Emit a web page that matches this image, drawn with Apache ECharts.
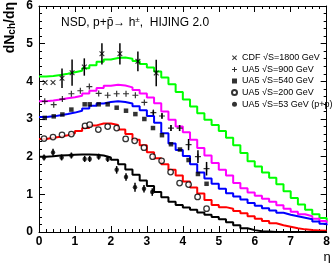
<!DOCTYPE html>
<html>
<head>
<meta charset="utf-8">
<script src="https://cdn.jsdelivr.net/npm/echarts@6/dist/echarts.min.js"></script>
<style>
  html, body { margin: 0; padding: 0; background: #fff; }
  #main { width: 333px; height: 263px; }
</style>
</head>
<body>
<div id="main"></div>
<script>
// bin edges of the HIJING histograms (eta)
var etaBins = [0, 0.2, 0.4, 0.6, 0.8, 1, 1.2, 1.4, 1.6, 1.8, 2, 2.2, 2.4, 2.6, 2.8, 3, 3.2, 3.4, 3.6, 3.8, 4,
  4.2, 4.4, 4.6, 4.8, 5, 5.2, 5.4, 5.6, 5.8, 6, 6.2, 6.4, 6.6, 6.8, 7, 7.2, 7.4, 7.6, 7.8, 8];

// HIJING 2.0 curves
var hijing1800 = [4.13, 4.14, 4.17, 4.2, 4.24, 4.28, 4.35, 4.43, 4.52, 4.58, 4.62, 4.63, 4.6, 4.54, 4.46, 4.37, 4.26, 4.1, 3.92, 3.72, 3.52,
  3.33, 3.15, 2.98, 2.84, 2.68, 2.5, 2.3, 2.1, 1.88, 1.74, 1.58, 1.44, 1.27, 1.08, 0.9, 0.73, 0.59, 0.47, 0.37, 0.28];
var hijing900 = [3.47, 3.49, 3.52, 3.55, 3.58, 3.62, 3.68, 3.75, 3.82, 3.88, 3.91, 3.89, 3.84, 3.77, 3.68, 3.57, 3.42, 3.2, 2.98, 2.8, 2.65,
  2.45, 2.23, 2.03, 1.83, 1.65, 1.5, 1.3, 1.16, 1.05, 0.96, 0.88, 0.8, 0.71, 0.62, 0.54, 0.47, 0.42, 0.35, 0.29, 0.24];
var hijing540 = [3.05, 3.07, 3.1, 3.13, 3.17, 3.22, 3.28, 3.35, 3.41, 3.45, 3.47, 3.45, 3.41, 3.34, 3.23, 3.08, 2.9, 2.62, 2.35, 2.18, 2.02,
  1.8, 1.58, 1.42, 1.28, 1.15, 1.03, 0.94, 0.86, 0.77, 0.7, 0.63, 0.57, 0.51, 0.46, 0.42, 0.38, 0.34, 0.28, 0.22, 0.18];
var hijing200 = [2.47, 2.5, 2.53, 2.57, 2.62, 2.68, 2.76, 2.83, 2.88, 2.88, 2.84, 2.72, 2.6, 2.45, 2.3, 2.12, 1.96, 1.8, 1.65, 1.5, 1.34,
  1.18, 1.02, 0.85, 0.72, 0.66, 0.62, 0.56, 0.5, 0.42, 0.35, 0.29, 0.23, 0.18, 0.14, 0.1, 0.07, 0.05, 0.04, 0.03, 0.03];
var hijing53 = [2.0, 2.01, 2.03, 2.04, 2.05, 2.06, 2.06, 2.05, 2.03, 1.98, 1.92, 1.8, 1.66, 1.52, 1.37, 1.22, 1.06, 0.92, 0.8, 0.72, 0.65,
  0.59, 0.52, 0.46, 0.4, 0.34, 0.26, 0.18, 0.1, 0.05, 0.02, 0.01, 0, 0, 0, 0, 0, 0, 0, 0, 0];

// measured data
var cdfEta = [0.17, 0.39, 0.64, 0.92, 1.26, 1.75, 2.25, 2.75, 3.26];
var cdfVal = [3.97, 3.97, 4.08, 4.23, 4.38, 4.73, 4.73, 4.53, 4.22];
var cdfErr = [0, 0, 0.26, 0.35, 0.23, 0.28, 0.28, 0.26, 0.35];

var ua900Eta = [0.16, 0.41, 0.65, 0.9, 1.15, 1.4, 1.66, 1.91, 2.16, 2.42, 2.68, 2.93, 3.18, 3.42, 3.67, 3.91, 4.16, 4.42, 4.66];
var ua900Val = [3.47, 3.38, 3.53, 3.67, 3.75, 3.86, 3.68, 3.63, 3.67, 3.67, 3.63, 3.44, 3.17, 3.08, 2.76, 2.76, 2.32, 2.0, 1.68];
var ua900Err = [0, 0, 0, 0, 0, 0, 0, 0, 0, 0, 0, 0, 0.06, 0.07, 0.08, 0.08, 0.15, 0.17, 0.18];

var ua540Eta = [0.16, 0.41, 0.65, 0.9, 1.27, 1.41, 1.66, 1.91, 2.16, 2.42, 2.68, 2.93, 3.17, 3.42, 3.67, 3.92, 4.16, 4.42, 4.66];
var ua540Val = [3.03, 3.07, 3.12, 3.25, 3.39, 3.39, 3.39, 3.39, 3.3, 3.22, 3.13, 3.0, 2.76, 2.57, 2.33, 2.19, 1.91, 1.54, 1.28];

var ua200Eta = [0.14, 0.39, 0.64, 0.9, 1.28, 1.41, 1.65, 1.91, 2.16, 2.41, 2.66, 2.92, 3.16, 3.41, 3.66, 3.91, 4.16, 4.41, 4.66];
var ua200Val = [2.48, 2.52, 2.58, 2.6, 2.82, 2.85, 2.72, 2.8, 2.76, 2.47, 2.42, 2.24, 2.0, 1.89, 1.59, 1.3, 1.26, 0.93, 0.62];

var ua53Eta = [0.14, 0.39, 0.63, 0.9, 1.27, 1.41, 1.66, 1.91, 2.16, 2.42, 2.67, 2.92, 3.15];
var ua53Val = [1.98, 2.11, 1.98, 2.03, 1.94, 1.94, 2.0, 1.94, 1.65, 1.46, 1.19, 1.15, 1.06];
var ua53Err = [0.08, 0.1, 0.08, 0.08, 0.08, 0.08, 0.08, 0.08, 0.1, 0.1, 0.12, 0.1, 0.1];

var xTicks = [0, 1, 2, 3, 4, 5, 6, 7, 8];
var yTicks = [0, 1, 2, 3, 4, 5, 6];

var legendNames = ["CDF \u221AS=1800 GeV", "UA5 \u221AS=900 GeV", "UA5 \u221AS=540 GeV", "UA5 \u221AS=200 GeV", "UA5 \u221AS=53 GeV (p+p)"];

var FONT = "Liberation Sans";
var plusPath = "path://M4,0H6V4H10V6H6V10H4V6H0V4H4Z";
var crossPath = "path://M1.4,0L5,3.6L8.6,0L10,1.4L6.4,5L10,8.6L8.6,10L5,6.4L1.4,10L0,8.6L3.6,5L0,1.4Z";

function pairs(xs, ys) {
  return xs.map(function (x, i) { return [x, ys[i]]; });
}

function errs(xs, ys, es) {
  var out = [];
  xs.forEach(function (x, i) {
    if (es[i] > 0) out.push([x, ys[i] - es[i], ys[i] + es[i]]);
  });
  return out;
}

function histo(name, vals, color) {
  return {
    name: name,
    type: "line",
    step: "end",
    data: pairs(etaBins, vals),
    showSymbol: false,
    lineStyle: { color: color, width: 2 },
    z: 2,
  };
}

var chartDom = document.getElementById("main");
var myChart = echarts.init(chartDom);
var option;

var axisCommon = {
  type: "value",
  axisLine: { show: true, onZero: false, lineStyle: { color: "#000", width: 1 } },
  axisTick: { show: true, inside: true, length: 6, lineStyle: { color: "#000", width: 1 } },
  minorTick: { show: true, splitNumber: 5, length: 3, lineStyle: { color: "#000", width: 1 } },
  splitLine: { show: false },
};

option = {
  animation: false,
  backgroundColor: "#fff",
  grid: { left: 39, right: 3, top: 4, bottom: 31 },
  xAxis: [
    Object.assign({}, axisCommon, {
      min: xTicks[0], max: xTicks[xTicks.length - 1], interval: 1, position: "bottom",
      axisLabel: { margin: 4, fontSize: 12, fontWeight: "bold", fontFamily: FONT, color: "#000" },
    }),
    Object.assign({}, axisCommon, {
      min: xTicks[0], max: xTicks[xTicks.length - 1], interval: 1, position: "top",
      axisLabel: { show: false },
    }),
  ],
  yAxis: [
    Object.assign({}, axisCommon, {
      min: yTicks[0], max: yTicks[yTicks.length - 1], interval: 1, position: "left",
      axisLabel: { margin: 6, fontSize: 12, fontWeight: "bold", fontFamily: FONT, color: "#000" },
    }),
    Object.assign({}, axisCommon, {
      min: yTicks[0], max: yTicks[yTicks.length - 1], interval: 1, position: "right",
      axisLabel: { show: false },
    }),
  ],
  legend: {
    orient: "vertical",
    left: 226,
    top: 47,
    itemWidth: 5,
    itemHeight: 5,
    itemGap: 0,
    selectedMode: false,
    data: legendNames,
    textStyle: { fontSize: 9, fontFamily: FONT, color: "#000", lineHeight: 11.6 },
  },
  graphic: [
    {
      type: "text",
      x: 61,
      y: 23,
      style: {
        text: "{a|NSD, p+p\u0304\u2192 h}{s|\u00B1}{a|,  HIJING 2.0}",
        textVerticalAlign: "middle",
        fill: "#000",
        rich: {
          a: { fontSize: 12, fontFamily: FONT, fill: "#000", lineHeight: 14 },
          s: { fontSize: 8, fontFamily: FONT, fill: "#000", verticalAlign: "top", lineHeight: 8 },
        },
      },
    },
    {
      type: "text",
      x: 10,
      y: 2,
      rotation: Math.PI / 2,
      style: {
        text: "{a|dN}{b|ch}{a|/d\u03B7}",
        textAlign: "right",
        textVerticalAlign: "middle",
        fill: "#000",
        rich: {
          a: { fontSize: 14, fontWeight: "bold", fontFamily: FONT, fill: "#000" },
          b: { fontSize: 10, fontWeight: "bold", fontFamily: FONT, fill: "#000", verticalAlign: "bottom" },
        },
      },
    },
    {
      type: "text",
      x: 327,
      y: 257,
      style: {
        text: "\u03B7",
        textAlign: "center",
        textVerticalAlign: "middle",
        fontSize: 13,
        fontFamily: FONT,
        fill: "#000",
      },
    },
  ],
  series: [
    histo("h1800", hijing1800, "#00ff00"),
    histo("h900", hijing900, "#ff00ff"),
    histo("h540", hijing540, "#0000ff"),
    histo("h200", hijing200, "#ff0000"),
    histo("h53", hijing53, "#000000"),
    {
      name: "errors",
      type: "custom",
      z: 3,
      data: errs(cdfEta, cdfVal, cdfErr)
        .concat(errs(ua900Eta, ua900Val, ua900Err))
        .concat(errs(ua53Eta, ua53Val, ua53Err)),
      renderItem: function (params, api) {
        var lo = api.coord([api.value(0), api.value(1)]);
        var hi = api.coord([api.value(0), api.value(2)]);
        return {
          type: "line",
          shape: { x1: lo[0], y1: lo[1], x2: hi[0], y2: hi[1] },
          style: { stroke: "#000", lineWidth: 1.5 },
        };
      },
    },
    {
      name: legendNames[0], type: "scatter", z: 4,
      data: pairs(cdfEta, cdfVal),
      symbol: crossPath, symbolSize: 5.5,
      itemStyle: { color: "#000" },
    },
    {
      name: legendNames[1], type: "scatter", z: 4,
      data: pairs(ua900Eta, ua900Val),
      symbol: plusPath, symbolSize: 6,
      itemStyle: { color: "#000" },
    },
    {
      name: legendNames[2], type: "scatter", z: 4,
      data: pairs(ua540Eta, ua540Val),
      symbol: "rect", symbolSize: 4.5,
      itemStyle: { color: "#000" },
    },
    {
      name: legendNames[3], type: "scatter", z: 4,
      data: pairs(ua200Eta, ua200Val),
      symbol: "circle", symbolSize: 5.5,
      itemStyle: { color: "#fff", borderColor: "#000", borderWidth: 1.3 },
    },
    {
      name: legendNames[4], type: "scatter", z: 4,
      data: pairs(ua53Eta, ua53Val),
      symbol: "circle", symbolSize: 4.5,
      itemStyle: { color: "#000" },
    },
  ],
};

option && myChart.setOption(option);
</script>
</body>
</html>
